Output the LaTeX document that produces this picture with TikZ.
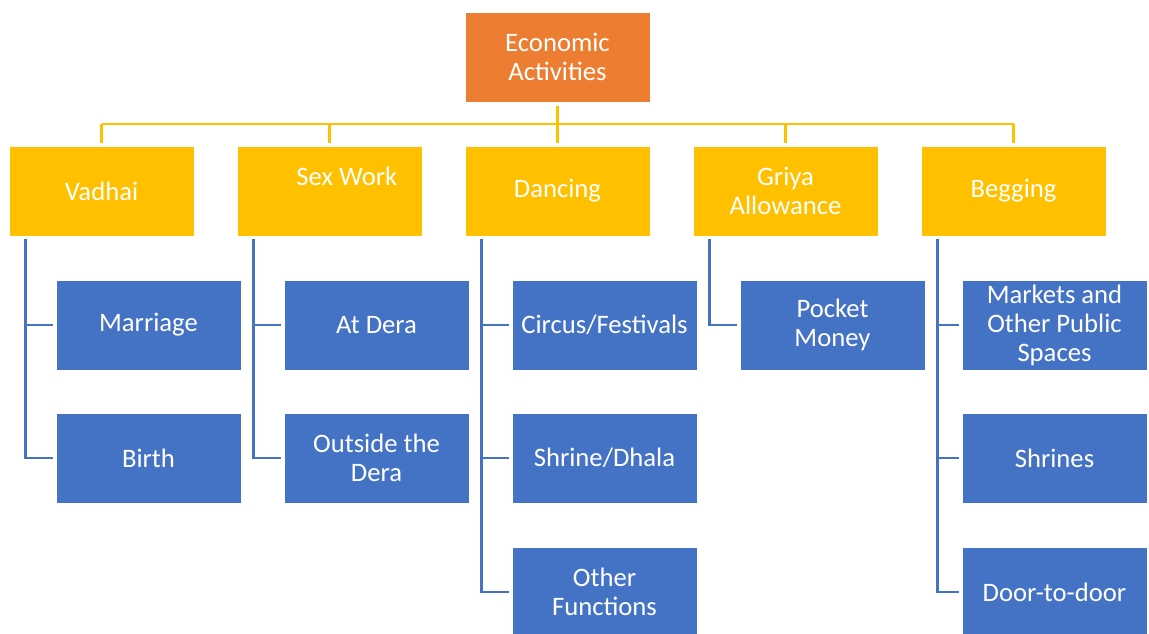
\documentclass[tikz,border=0pt]{standalone}
\usepackage{fontspec}
\setmainfont{Carlito}

\definecolor{econorange}{HTML}{ED7D31}
\definecolor{activgold}{HTML}{FFC000}
\definecolor{sourceblue}{HTML}{4472C4}

\tikzset{
  box/.style={draw=white, line width=0.4pt, text=white, align=center,
    minimum width=138.75pt, minimum height=67.5pt, inner sep=2pt,
    font=\fontsize{20}{21.75}\selectfont},
  topbox/.style={box, fill=econorange},
  midbox/.style={box, fill=activgold},
  lowbox/.style={box, fill=sourceblue},
  goldline/.style={draw=activgold, line width=2pt},
  blueline/.style={draw=sourceblue, line width=2pt}
}

\begin{document}
\begin{tikzpicture}[x=0.75pt, y=-0.75pt]

\useasboundingbox (0,0) rectangle (1149,634);

\node[topbox] (econ) at (557.5,57) {Economic\\Activities};
%%

\node[midbox] (vadhai)  at (101.5,191) {Vadhai};
\node[midbox] (sexwork) at (329.5,191) {\hspace*{26pt}Sex Work\\\mbox{}};
\node[midbox] (dancing) at (557.5,191) {Dancing};
\node[midbox] (griya)   at (785.5,191) {Griya\\Allowance};
\node[midbox] (begging) at (1013.5,191) {Begging};
%%

\node[lowbox] (marriage) at (148.5,325) {Marriage};
\node[lowbox] (birth)    at (148.5,458) {Birth};

\node[lowbox] (atdera)  at (376.5,325) {At Dera};
\node[lowbox] (outside) at (376.5,458) {Outside the\\Dera};

\node[lowbox] (circus) at (604.5,325) {Circus/Festivals};
\node[lowbox] (shrine) at (604.5,458) {Shrine/Dhala};
\node[lowbox] (other)  at (604.5,592) {Other\\Functions};

\node[lowbox] (pocket) at (832.5,325) {Pocket\\Money};

\node[lowbox] (markets) at (1054.5,325) {Markets and\\Other Public\\Spaces};
\node[lowbox] (shrines) at (1054.5,458) {Shrines};
\node[lowbox] (door)    at (1054.5,592) {Door-to-door};
%%

\coordinate (bus) at (557.5,124);
\draw[goldline] ([yshift=-3pt]econ.south) -- (bus);
\draw[goldline] (vadhai.north |- bus) -- (begging.north |- bus);
\foreach \p in {vadhai,sexwork,dancing,griya,begging}
  \draw[goldline] (\p.north |- bus) -- ([yshift=2.25pt]\p.north);
%%

\foreach \p/\c in {vadhai/marriage, vadhai/birth,
                   sexwork/atdera, sexwork/outside,
                   dancing/circus, dancing/shrine, dancing/other,
                   griya/pocket,
                   begging/markets, begging/shrines, begging/door}
  \draw[blueline] ([xshift=12.4pt,yshift=-2.25pt]\p.south west) |- ([xshift=-2.25pt]\c.west);

\end{tikzpicture}
\end{document}
